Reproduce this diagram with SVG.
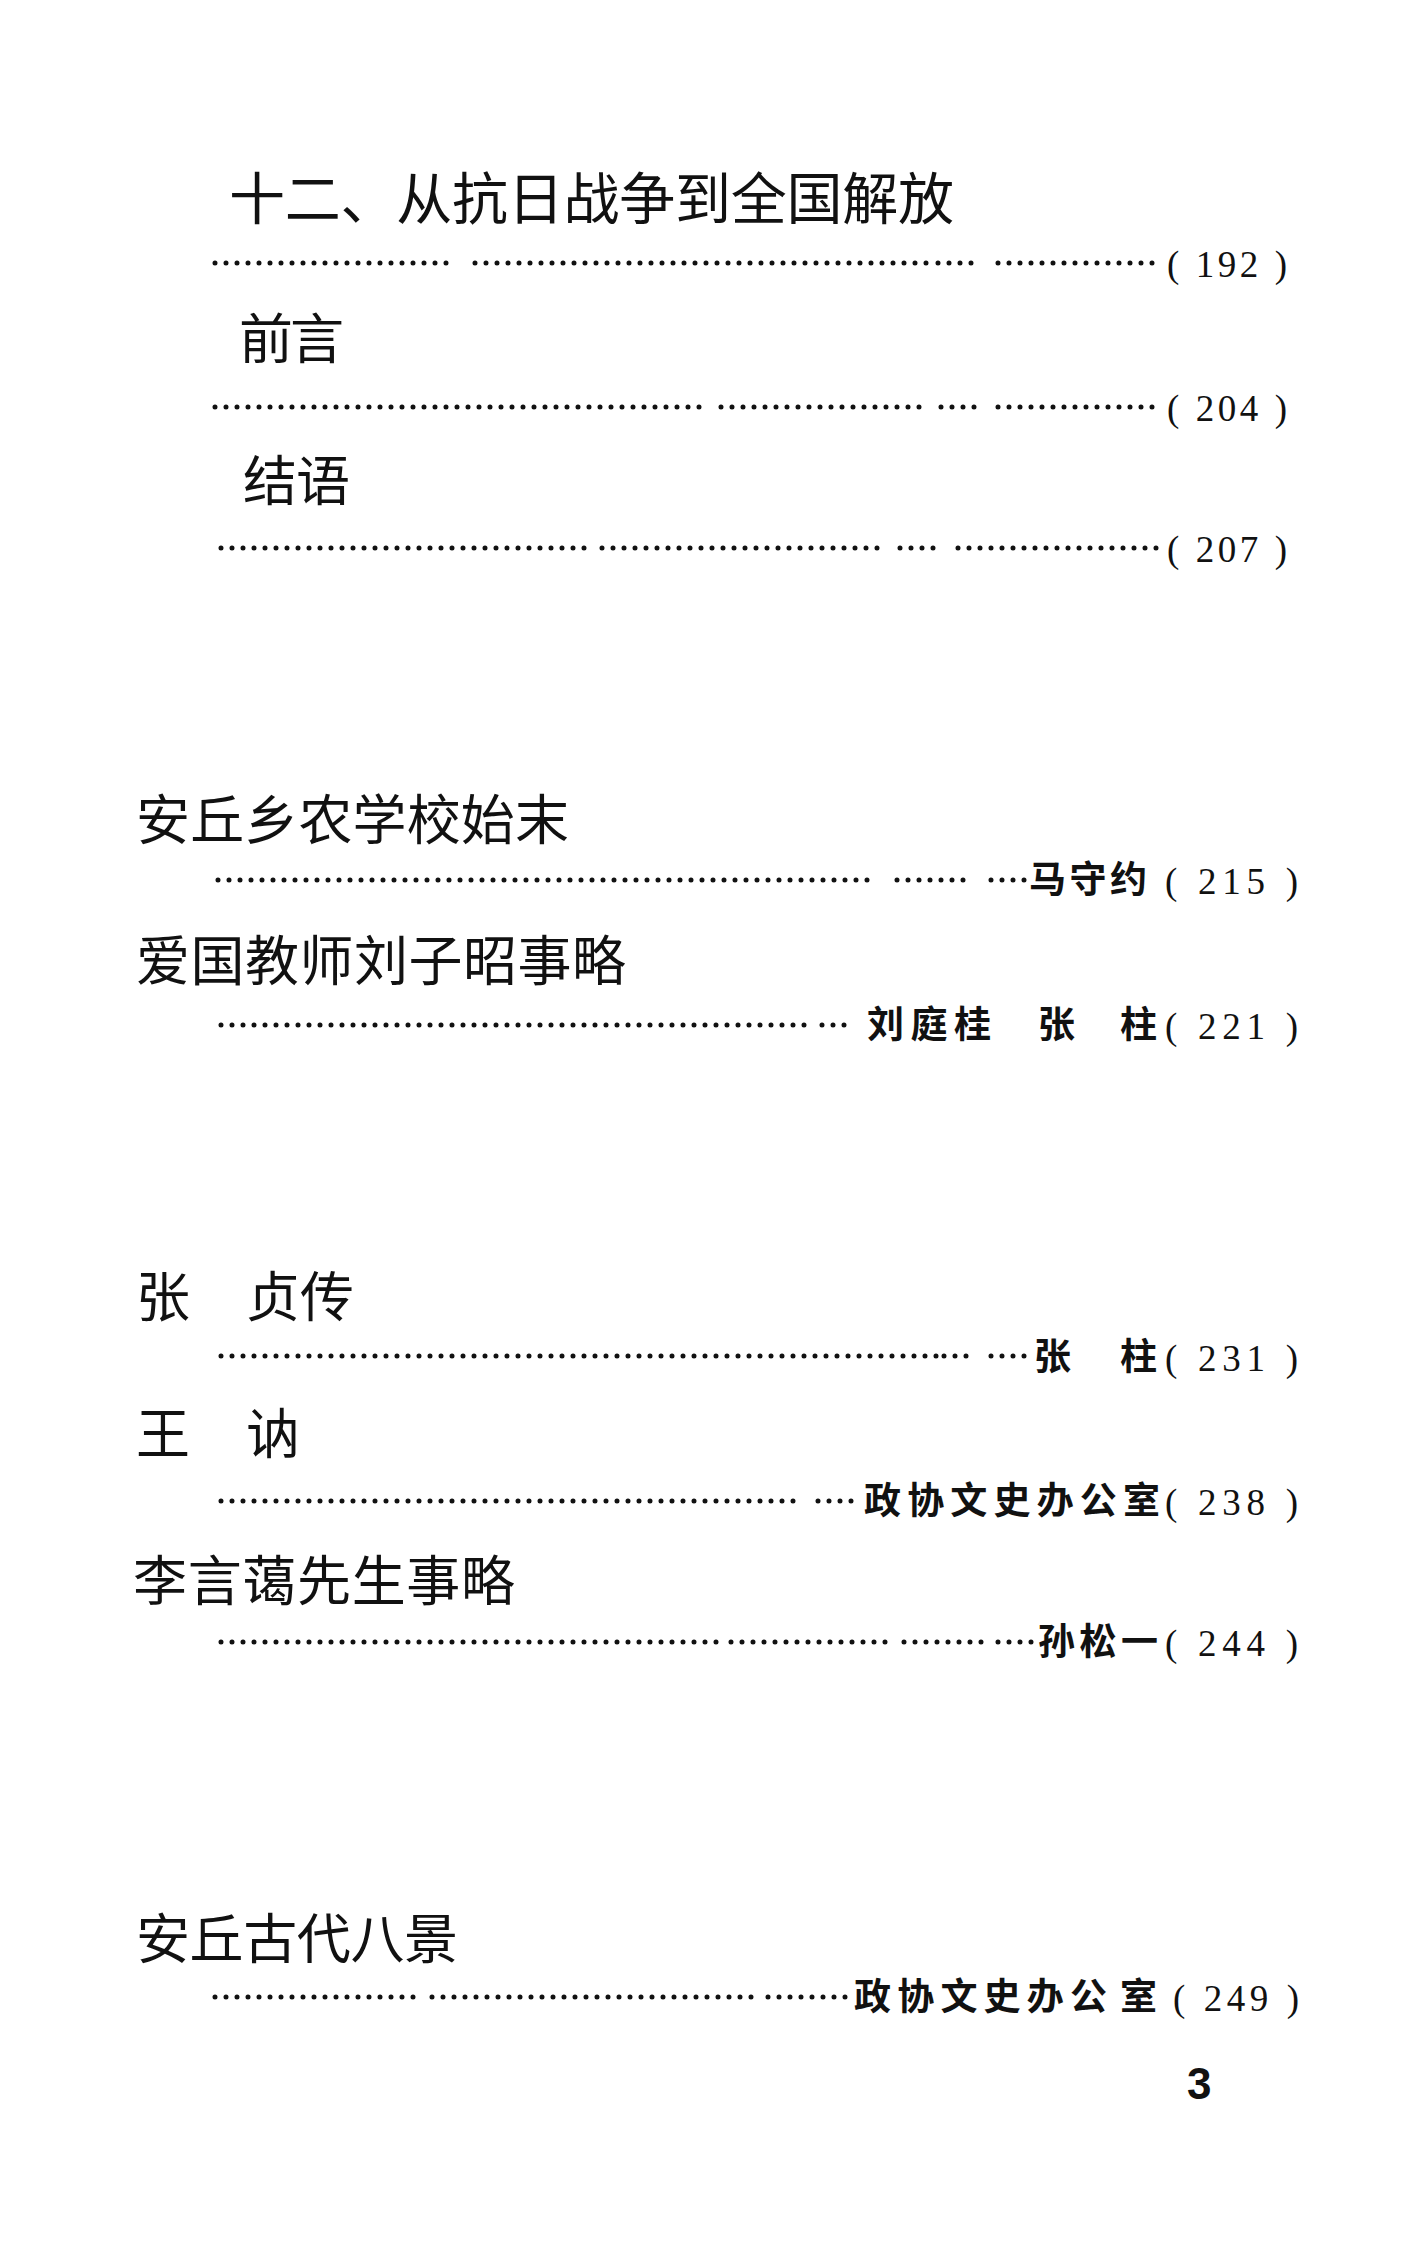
<svg xmlns="http://www.w3.org/2000/svg" width="1428" height="2265" viewBox="0 0 1428 2265">
<style>
.h{font-family:"Noto Sans CJK SC","Noto Sans CJK TC",sans-serif;font-size:54px;fill:#111;font-weight:400}
.t1{font-size:56px}
.a{font-family:"Noto Sans CJK SC","Noto Sans CJK TC",sans-serif;font-size:37px;fill:#111;font-weight:700}
.n{font-family:"Liberation Serif","DejaVu Serif",serif;font-size:37px;fill:#111}
.pg{font-family:"Liberation Sans",Arial,sans-serif;font-size:44px;fill:#111;font-weight:700}
.d{stroke:#111;stroke-width:5;stroke-linecap:round;stroke-dasharray:0 11;fill:none}
</style>
<rect width="1428" height="2265" fill="#fff"/>
<g id="leaders">
<line class="d" x1="215" y1="263" x2="453" y2="263"/><line class="d" x1="475" y1="263" x2="927" y2="263"/><line class="d" x1="938" y1="263" x2="973" y2="263"/><line class="d" x1="998" y1="263" x2="1162" y2="263"/>
<line class="d" x1="215" y1="407" x2="710" y2="407"/><line class="d" x1="721" y1="407" x2="927" y2="407"/><line class="d" x1="941" y1="407" x2="977" y2="407"/><line class="d" x1="998" y1="407" x2="1160" y2="407"/>
<line class="d" x1="221" y1="548" x2="587" y2="548"/><line class="d" x1="602" y1="548" x2="886" y2="548"/><line class="d" x1="900" y1="548" x2="937" y2="548"/><line class="d" x1="958" y1="548" x2="1160" y2="548"/>
<line class="d" x1="218" y1="880" x2="876" y2="880"/><line class="d" x1="897" y1="880" x2="973" y2="880"/><line class="d" x1="991" y1="880" x2="1025" y2="880"/>
<line class="d" x1="221" y1="1025" x2="811" y2="1025"/><line class="d" x1="822" y1="1025" x2="855" y2="1025"/>
<line class="d" x1="221" y1="1356" x2="938" y2="1356"/><line class="d" x1="944" y1="1356" x2="973" y2="1356"/><line class="d" x1="991" y1="1356" x2="1028" y2="1356"/>
<line class="d" x1="221" y1="1501" x2="804" y2="1501"/><line class="d" x1="818" y1="1501" x2="855" y2="1501"/>
<line class="d" x1="221" y1="1642" x2="717" y2="1642"/><line class="d" x1="731" y1="1642" x2="890" y2="1642"/><line class="d" x1="904" y1="1642" x2="984" y2="1642"/><line class="d" x1="998" y1="1642" x2="1035" y2="1642"/>
<line class="d" x1="215" y1="1997" x2="418" y2="1997"/><line class="d" x1="432" y1="1997" x2="754" y2="1997"/><line class="d" x1="768" y1="1997" x2="847" y2="1997"/>
</g>
<g id="entry-12">
<text class="h t1" x="229" y="219" textLength="725">十二、从抗日战争到全国解放</text>
<text class="n" x="1167" y="277" textLength="120">( 192 )</text>
</g>
<g id="entry-preface">
<text class="h" x="239" y="359" textLength="105">前言</text>
<text class="n" x="1167" y="421" textLength="120">( 204 )</text>
</g>
<g id="entry-epilogue">
<text class="h" x="243" y="501" textLength="107">结语</text>
<text class="n" x="1167" y="562" textLength="120">( 207 )</text>
</g>
<g id="entry-school">
<text class="h" x="136" y="840" textLength="433">安丘乡农学校始末</text>
<text class="a" x="1029" y="893" textLength="118">马守约</text>
<text class="n" x="1165" y="894" textLength="133">( 215 )</text>
</g>
<g id="entry-liuzizhao">
<text class="h" x="136" y="981" textLength="490">爱国教师刘子昭事略</text>
<text class="a" x="867" y="1038" textLength="124">刘庭桂</text>
<text class="a" x="1038" y="1038">张</text>
<text class="a" x="1120" y="1038">柱</text>
<text class="n" x="1165" y="1039" textLength="133">( 221 )</text>
</g>
<g id="entry-zhangzhen">
<text class="h" x="136" y="1317">张</text>
<text class="h" x="246" y="1317">贞传</text>
<text class="a" x="1034" y="1370">张</text>
<text class="a" x="1120" y="1370">柱</text>
<text class="n" x="1165" y="1371" textLength="133">( 231 )</text>
</g>
<g id="entry-wangne">
<text class="h" x="136" y="1454">王</text>
<text class="h" x="246" y="1454">讷</text>
<text class="a" x="864" y="1514" textLength="296">政协文史办公室</text>
<text class="n" x="1165" y="1515" textLength="133">( 238 )</text>
</g>
<g id="entry-liyanai">
<text class="h" x="133" y="1601" textLength="382">李言蔼先生事略</text>
<text class="a" x="1038" y="1655" textLength="120">孙松一</text>
<text class="n" x="1165" y="1656" textLength="133">( 244 )</text>
</g>
<g id="entry-eightviews">
<text class="h" x="136" y="1959" textLength="322">安丘古代八景</text>
<text class="a" x="854" y="2010" textLength="253">政协文史办公</text>
<text class="a" x="1120" y="2010">室</text>
<text class="n" x="1173" y="2011" textLength="126">( 249 )</text>
</g>
<g id="page-number">
<text class="pg" x="1187" y="2099">3</text>
</g>
</svg>
